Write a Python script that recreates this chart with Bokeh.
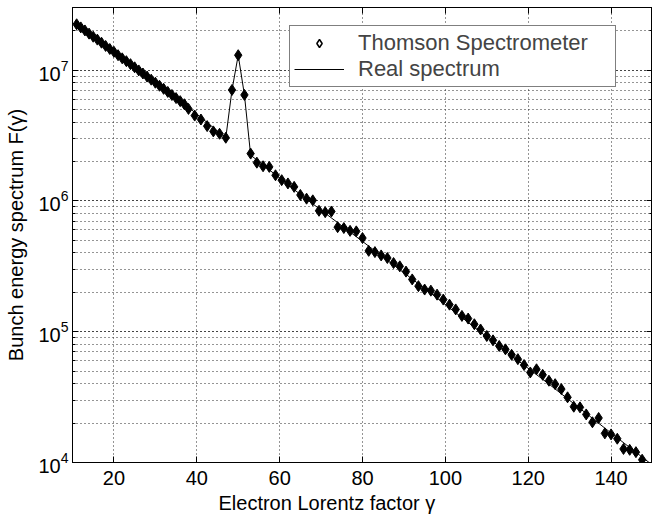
from bokeh.plotting import figure
from bokeh.models import (LogAxis, LinearAxis, Legend, LegendItem, FixedTicker, LogTicker,
                          Range1d, CustomJSTickFormatter, ColumnDataSource, Title)
from bokeh.embed import file_html
from bokeh.resources import INLINE

# Measured points (Thomson spectrometer)
gamma = [11, 12, 13, 14, 15, 16, 17, 18, 19, 20, 21, 22, 23, 24, 25, 26, 27, 28, 29, 30,
         31, 32, 33, 34, 35, 36, 37,
         38, 39.5, 41, 42.5, 44, 45.5, 47, 48.5, 50, 51.5, 53, 54.5, 56, 57.5, 59, 60.5,
         62, 63.5, 65, 66.5, 68, 69.5, 71, 72.5, 74, 75.5, 77, 78.5, 80, 81.5, 83, 84.5,
         86, 87.5, 89, 90.5, 92, 93.5, 95, 96.5, 98, 99.5, 101, 102.5, 104, 105.5, 107,
         108.5, 110, 111.5, 113, 114.5, 116, 117.5, 119, 120.5, 122, 123.5, 125, 126.5,
         128, 129.5, 131, 132.5, 134, 135.5, 137, 138.5, 140, 141.5, 143, 144.5, 146, 147.5]
spectrum = [2.24e7, 2.12e7, 2.01e7, 1.90e7, 1.80e7, 1.71e7, 1.62e7, 1.53e7, 1.45e7, 1.38e7,
            1.30e7, 1.23e7, 1.17e7, 1.11e7, 1.05e7, 9.94e6, 9.42e6, 8.92e6, 8.45e6, 8.01e6,
            7.59e6, 7.19e6, 6.81e6, 6.45e6, 6.11e6, 5.79e6, 5.48e6,
            5.05e6, 4.49e6, 4.19e6, 3.73e6, 3.40e6, 3.26e6, 3.04e6, 7.05e6, 1.30e7, 6.46e6,
            2.30e6, 1.96e6, 1.84e6, 1.82e6, 1.57e6, 1.44e6, 1.36e6, 1.28e6, 1.11e6, 1.04e6,
            1.01e6, 8.4e5, 8.2e5, 8.3e5, 6.3e5, 6.2e5, 5.9e5, 5.85e5, 5.2e5, 4.15e5, 4.06e5,
            3.83e5, 3.66e5, 3.35e5, 3.16e5, 2.88e5, 2.51e5, 2.23e5, 2.10e5, 2.06e5, 1.92e5,
            1.76e5, 1.61e5, 1.48e5, 1.32e5, 1.26e5, 1.14e5, 1.04e5, 9.27e4, 8.59e4, 7.78e4,
            7.33e4, 6.65e4, 6.17e4, 5.56e4, 4.88e4, 5.16e4, 4.68e4, 4.22e4, 3.97e4, 3.64e4,
            3.15e4, 2.67e4, 2.64e4, 2.33e4, 2.03e4, 2.19e4, 1.67e4, 1.64e4, 1.52e4, 1.27e4,
            1.25e4, 1.20e4, 1.05e4]

# Real spectrum
real_gamma = [11, 38, 47, 48.5, 50, 51.5, 53, 65, 80, 95, 110, 125, 140, 150]
real_spectrum = [2.24e7, 5.19e6, 3.04e6, 7.05e6, 1.30e7, 6.46e6, 2.24e6, 1.12e6, 4.9e5,
                 2.14e5, 9.12e4, 3.98e4, 1.68e4, 9.55e3]

x_ticks = [20, 40, 60, 80, 100, 120, 140]

FONT = "Liberation Sans"

p = figure(width=652, height=515, x_range=Range1d(10, 150), y_range=Range1d(1e4, 3.01e7),
           y_axis_type="log", output_backend="svg", toolbar_location=None,
           min_border_left=72, min_border_right=0, min_border_top=7, min_border_bottom=0)

p.outline_line_color = "black"
p.outline_line_width = 1

line_r = p.line(real_gamma, real_spectrum, line_color="black", line_width=1)
pts_r = p.scatter(gamma, spectrum, marker="diamond", size=11, fill_color="black",
                  line_color="black")
# legend-only glyph (hollow diamond); NaN position so nothing is drawn in the plot
leg_src = ColumnDataSource(data=dict(x=[float("nan")], y=[float("nan")]))
leg_marker = p.scatter("x", "y", source=leg_src, marker="diamond", size=9,
                       fill_color="white", line_color="black", line_width=1.5)

blank = CustomJSTickFormatter(code="return ''")

# axes
for ax in p.xaxis:
    ax.ticker = FixedTicker(ticks=x_ticks)
for ax in p.axis:
    ax.major_label_text_font = FONT
    ax.major_label_text_font_size = "20px"
    ax.major_label_text_color = "black"
    ax.axis_label_text_font = FONT
    ax.axis_label_text_font_size = "20px"
    ax.axis_label_text_font_style = "normal"
    ax.axis_label_text_color = "black"
    ax.major_tick_in = 6
    ax.major_tick_out = 0
    ax.minor_tick_in = 3
    ax.minor_tick_out = 0
    ax.axis_line_color = "black"
    ax.major_tick_line_color = "black"
    ax.minor_tick_line_color = "black"
    ax.major_label_standoff = 4
p.xaxis.minor_tick_line_color = None
p.xaxis.major_label_standoff = 8
p.yaxis.axis_label = "Bunch energy spectrum F(γ)"
p.yaxis.axis_label_standoff = 8

p.add_layout(Title(text="Electron Lorentz factor γ", align="left", offset=146,
                   text_font=FONT, text_font_size="20px", text_font_style="normal",
                   text_color="black", standoff=4), "below")

top_ax = LinearAxis(ticker=FixedTicker(ticks=x_ticks), formatter=blank,
                    major_tick_in=6, major_tick_out=0, minor_tick_line_color=None,
                    axis_line_color="black", major_label_standoff=0)
p.add_layout(top_ax, "above")
right_ax = LogAxis(ticker=LogTicker(), formatter=blank, major_tick_in=6,
                   major_tick_out=0, minor_tick_in=3, minor_tick_out=0,
                   axis_line_color="black", major_label_standoff=0)
p.add_layout(right_ax, "right")

# grid
p.xgrid.ticker = FixedTicker(ticks=x_ticks)
p.xgrid.grid_line_color = "#2a2a2a"
p.xgrid.grid_line_dash = "1 3"
p.ygrid.grid_line_color = "#2a2a2a"
p.ygrid.grid_line_dash = "1 3"
p.ygrid.minor_grid_line_color = "#2a2a2a"
p.ygrid.minor_grid_line_dash = "1 3"

legend = Legend(items=[LegendItem(label="Thomson Spectrometer", renderers=[leg_marker]),
                       LegendItem(label="Real spectrum", renderers=[line_r])],
                location=(217, 375), margin=0, padding=4, spacing=0,
                glyph_width=50, label_standoff=14, label_width=253,
                label_text_font=FONT, label_text_font_size="22px",
                border_line_color="black", border_line_width=1,
                background_fill_color="white", background_fill_alpha=1)
p.add_layout(legend, "center")

open("out.html", "w").write(file_html(p, INLINE))
